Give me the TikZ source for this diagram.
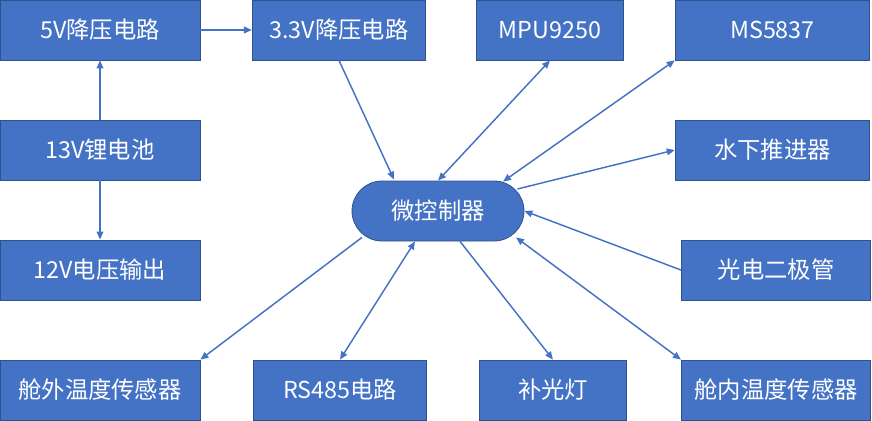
\documentclass[tikz,border=0pt]{standalone}
\usepackage{fontspec}
\setmainfont{Noto Sans CJK SC}
\usepackage{xcolor}
\usepackage{tikz}
\usetikzlibrary{arrows.meta, calc}
\definecolor{boxblue}{HTML}{4472C4}
\definecolor{boxline}{HTML}{2F528F}
\tikzstyle{block} = [rectangle, minimum height=45pt, text centered, fill=boxblue, draw=boxline, line width=0.6pt, text=white, font=\fontsize{17.5}{20}\selectfont, inner sep=0pt]
\tikzstyle{mcu} = [block, rounded corners=22.5pt]
\tikzstyle{arrow} = [boxblue, line width=1.1pt, -{Triangle[length=6pt, width=5pt]}]
\tikzstyle{biarrow} = [boxblue, line width=1.1pt, {Triangle[length=6pt, width=5pt]}-{Triangle[length=6pt, width=5pt]}]

\begin{document}
\begin{tikzpicture}[x=0.75pt, y=-0.75pt]
                    \useasboundingbox (0,0) rectangle (872,421);

                    \node (v5) [block, minimum width=150pt] at (100,30) {5V降压电路};
                    \node (v33) [block, minimum width=130pt] at (339,30) {3.3V降压电路};
                    \node (mpu) [block, minimum width=110pt] at (550,30) {MPU9250};
                    \node (ms) [block, minimum width=146pt] at (772.5,30) {MS5837};

                    \node (bat) [block, minimum width=150pt] at (100,150) {13V锂电池};
                    \node (motor) [block, minimum width=146pt] at (772.5,150) {水下推进器};

                    \node (ctrl) [mcu, minimum width=129pt] at (438,211) {微控制器};

                    \node (v12) [block, minimum width=150pt] at (100,270) {12V电压输出};
                    \node (pd) [block, minimum width=142pt] at (776,270) {光电二极管};

                    \node (tout) [block, minimum width=150pt] at (100,390) {舱外温度传感器};
                    \node (rs) [block, minimum width=130pt] at (340,390) {RS485电路};
                    \node (led) [block, minimum width=110pt] at (553,390) {补光灯};
                    \node (tin) [block, minimum width=142pt] at (776,390) {舱内温度传感器};

                    % power
                    \draw[arrow] (bat) -- (v5);
                    \draw[arrow] (bat) -- (v12);
                    \draw[arrow] (v5) -- (v33);
                    \draw[arrow] (v33.south) -- ($(ctrl.north)+(-44,-1)$);

                    % sensors and outputs
                    \draw[biarrow] (mpu.south) -- (ctrl.north);
                    \draw[biarrow] (ms.south west) -- ($(ctrl.north)+(65,1)$);
                    \draw[arrow] ($(ctrl.east)+(-7,-22)$) -- (motor.west);
                    \draw[arrow] (pd.west) -- (ctrl.east);
                    \draw[arrow] ($(ctrl.south)+(-76,-4)$) -- (tout.north east);
                    \draw[biarrow] (rs.north) -- ($(ctrl.south)+(-23,0)$);
                    \draw[arrow] ($(ctrl.south)+(22,0)$) -- (led.north);
                    \draw[biarrow] (tin.north west) -- ($(ctrl.south)+(78,-4)$);
                \end{tikzpicture}
\end{document}
